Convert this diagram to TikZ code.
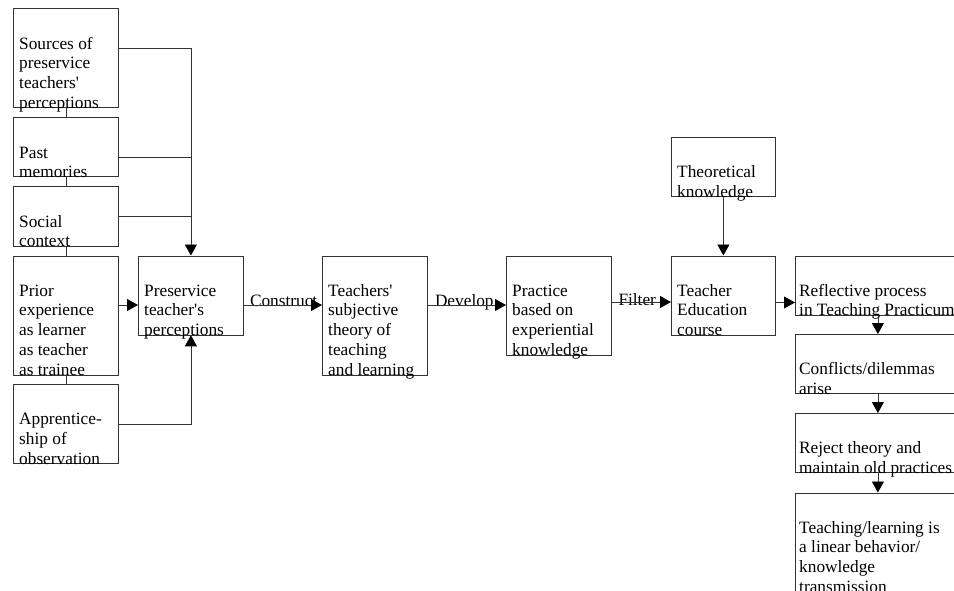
\documentclass[tikz,border=0pt]{standalone}
\usepackage{fontspec}
\setmainfont{Liberation Serif}[Ligatures=TeXOff]
\usetikzlibrary{arrows.meta}
\newcommand\mybox[7][6]{%
  \node[box, minimum width=#5pt, minimum height=#6pt] (#2) at (#3,#4) {};
  \node[txt] (#2t) at ([xshift=#1pt,yshift=-26.6pt]#2.north west) {\strut #7};
}
\begin{document}
\begin{tikzpicture}[x=1pt,y=-1pt,
  box/.style={draw=black!80, line width=0.8pt, rectangle, inner sep=0pt, anchor=north west},
  txt/.style={font=\fontsize{17.3}{19.8}\selectfont, align=left, inner sep=0pt, anchor=north west},
  lbl/.style={font=\fontsize{17.3}{19.8}\selectfont, inner sep=0pt, anchor=base west},
  conn/.style={draw=black!80, line width=0.8pt},
  arr/.style={conn, -{Triangle[length=11pt,width=12pt,fill=black,color=black]}}]
\useasboundingbox (0,0) rectangle (954,591);
\clip (0,0) rectangle (954,591);

% left column
\mybox{src}{13}{8.5}{105}{99}{Sources of\\preservice\\teachers'\\perceptions}
\mybox{past}{13}{117.5}{105}{59}{Past\\memories}
\mybox{soc}{13}{186.5}{105}{59}{Social\\context}
\mybox{prior}{13}{255.5}{105}{119}{Prior\\experience\\as learner\\as teacher\\as trainee}
\mybox{app}{13}{384}{105}{79}{Apprentice-\\ship of\\observation}

% main row
\mybox{pre}{138}{255.5}{105}{79}{Preservice\\teacher's\\perceptions}
\mybox{teach}{322}{255.5}{105}{119}{Teachers'\\subjective\\theory of\\teaching\\and learning}
\mybox{prac}{506}{255.5}{105}{99}{Practice\\based on\\experiential\\knowledge}
\mybox{theo}{671}{137}{104}{59}{Theoretical\\knowledge}
\mybox{ted}{671}{255.5}{104}{79}{Teacher\\Education\\course}

% right column
\mybox[4]{refl}{795}{255.5}{165}{59}{Reflective process\\in Teaching Practicum}
\mybox[4]{conf}{795}{334}{165}{59}{Conflicts/dilemmas\\arise}
\mybox[4]{rej}{795}{413}{165}{59}{Reject theory and\\maintain old practices}
\mybox[4]{tl}{795}{492.5}{165}{99}{Teaching/learning is\\a linear behavior/\\knowledge\\transmission}

% left column links
\draw[conn] (src.south) -- (past.north);
\draw[conn] (past.south) -- (soc.north);
\draw[conn] (soc.south) -- (prior.north);
\draw[conn] (prior.south) -- (app.north);

% sources into preservice
\coordinate (srcO) at ([yshift=-40pt]src.north east);
\coordinate (pastO) at ([yshift=-39.5pt]past.north east);
\coordinate (priO) at ([yshift=-49.5pt]prior.north east);
\draw[arr] (srcO) -| (pre.north);
\draw[conn] (pastO) -- (pastO -| pre.north);
\draw[conn] (soc.east) -- (soc.east -| pre.north);
\draw[arr] (priO) -- (priO -| pre.west);
\draw[arr] (app.east) -| (pre.south);

% main chain
\coordinate (preO) at ([yshift=-49.5pt]pre.north east);
\coordinate (teachO) at ([yshift=-49.5pt]teach.north east);
\coordinate (pracO) at ([yshift=-46.5pt]prac.north east);
\coordinate (tedO) at ([yshift=-47pt]ted.north east);
\node[lbl] (lcon) at ([xshift=6pt,yshift=-1.7pt]preO) {Construct};
\node[lbl] (ldev) at ([xshift=7pt,yshift=-1.7pt]teachO) {Develop};
\node[lbl] (lfil) at ([xshift=6.5pt,yshift=-3.8pt]pracO) {Filter};
\draw[arr] (preO) -- (preO -| teach.west);
\draw[arr] (teachO) -- (teachO -| prac.west);
\draw[arr] (pracO) -- (pracO -| ted.west);
\draw[arr] (theo.south) -- (ted.north);
\draw[arr] (tedO) -- (tedO -| refl.west);

% right column chain
\draw[arr] (refl.south) -- (conf.north);
\draw[arr] (conf.south) -- (rej.north);
\draw[arr] (rej.south) -- (tl.north);
\end{tikzpicture}
\end{document}
